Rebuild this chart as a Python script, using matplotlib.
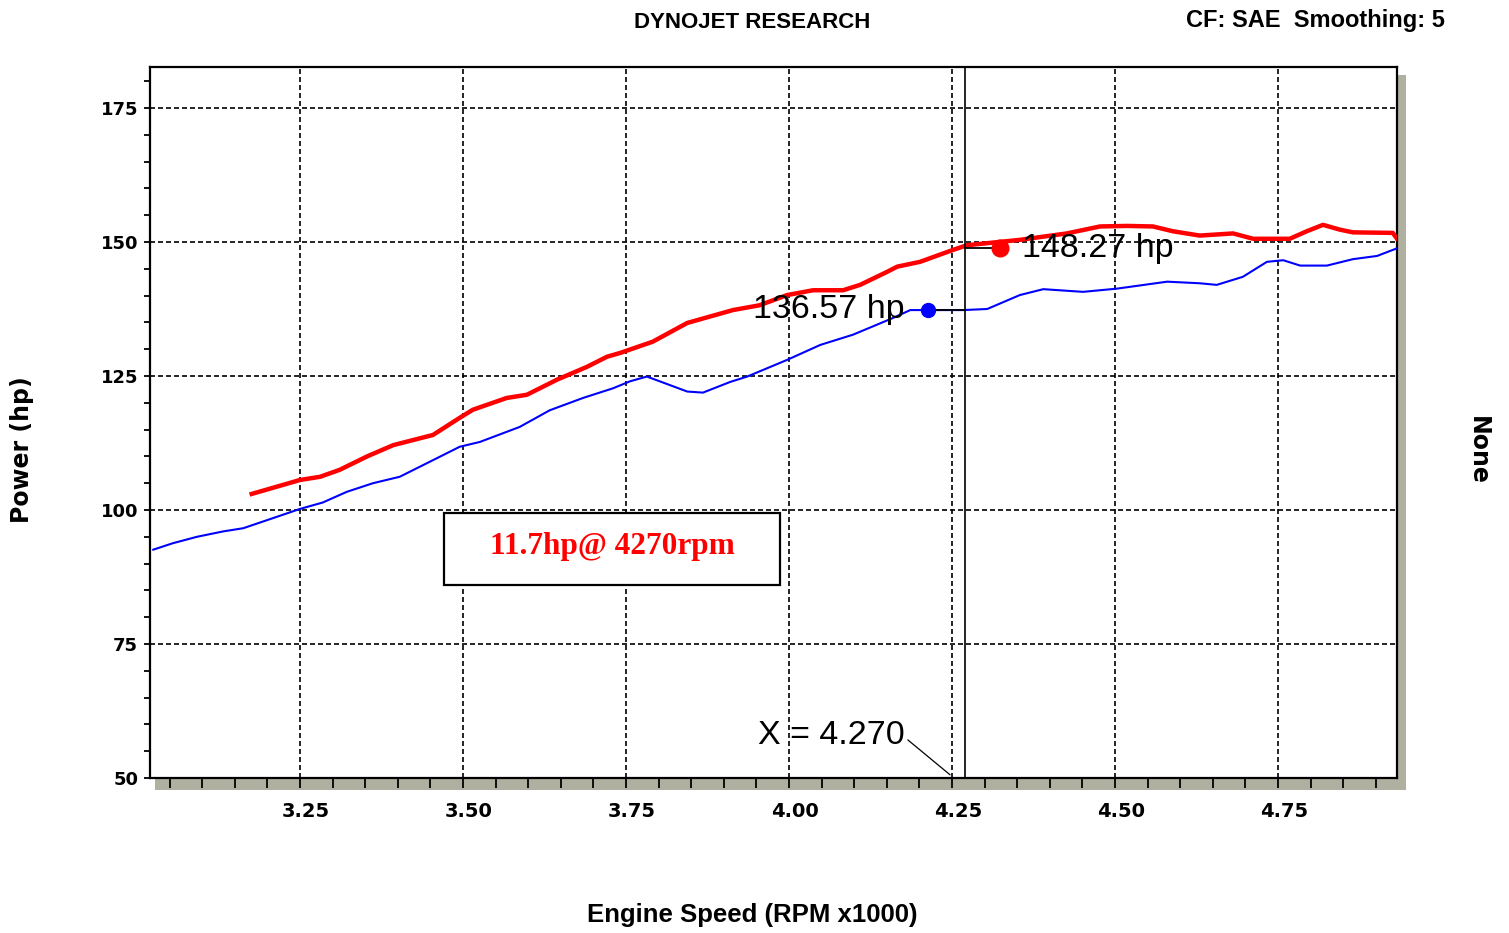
import numpy as np
import matplotlib
matplotlib.use("Agg")
import matplotlib.pyplot as plt
from matplotlib.ticker import MultipleLocator
from matplotlib.patches import Rectangle
from matplotlib.transforms import ScaledTranslation

# curvas (rpm x1000, hp)
red_rpm = [3.176, 3.25, 3.281, 3.311, 3.353, 3.393, 3.454, 3.495, 3.515, 3.567, 3.598,
           3.644, 3.690, 3.721, 3.741, 3.791, 3.844, 3.914, 3.955, 3.997, 4.037, 4.083,
           4.109, 4.150, 4.166, 4.201, 4.251, 4.273, 4.354, 4.426, 4.477, 4.518, 4.558,
           4.589, 4.630, 4.681, 4.712, 4.768, 4.794, 4.819, 4.845, 4.865, 4.926, 4.932]
red_hp = [103.0, 105.6, 106.2, 107.5, 110.0, 112.1, 114.0, 117.2, 118.7, 120.9, 121.5,
          124.3, 126.7, 128.6, 129.3, 131.4, 134.9, 137.3, 138.2, 140.1, 141.0, 141.0,
          142.0, 144.4, 145.4, 146.3, 148.5, 149.4, 150.4, 151.6, 152.9, 153.0, 152.9,
          152.0, 151.2, 151.6, 150.6, 150.6, 152.0, 153.2, 152.3, 151.8, 151.7, 150.7]

blue_rpm = [3.025, 3.055, 3.092, 3.132, 3.163, 3.209, 3.25, 3.285, 3.322, 3.362, 3.403,
            3.454, 3.495, 3.526, 3.587, 3.633, 3.684, 3.730, 3.756, 3.782, 3.844, 3.868,
            3.910, 3.936, 3.997, 4.048, 4.098, 4.159, 4.186, 4.212, 4.267, 4.304, 4.354,
            4.390, 4.451, 4.503, 4.580, 4.630, 4.656, 4.696, 4.733, 4.758, 4.784, 4.825,
            4.865, 4.902, 4.932]
blue_hp = [92.6, 93.8, 95.0, 96.0, 96.6, 98.5, 100.2, 101.4, 103.4, 105.0, 106.2,
           109.3, 111.8, 112.7, 115.5, 118.6, 120.9, 122.7, 124.0, 124.9, 122.1, 121.9,
           123.9, 124.9, 128.0, 130.8, 132.7, 135.8, 137.3, 137.3, 137.3, 137.5, 140.1,
           141.2, 140.7, 141.3, 142.6, 142.3, 142.0, 143.5, 146.3, 146.6, 145.6, 145.6,
           146.8, 147.4, 148.8]

cursor_rpm = 4.270
red_label = "148.27 hp"
blue_label = "136.57 hp"
gain_label = "11.7hp@ 4270rpm"
x_ticks = [3.25, 3.50, 3.75, 4.00, 4.25, 4.50, 4.75]
y_ticks = [50, 75, 100, 125, 150, 175]

fig = plt.figure(figsize=(15.09, 9.33), dpi=100)
fig.patch.set_facecolor("white")
ax = fig.add_axes([150/1509, 155/933, 1247/1509, 711/933])

# sombra cinza da moldura
shadow = "#b0b0a0"
fig.add_artist(Rectangle((1397/1509, 143/933), 9/1509, 715/933, transform=fig.transFigure,
                         facecolor=shadow, edgecolor="none", zorder=-1))
fig.add_artist(Rectangle((155/1509, 143/933), 1251/1509, 13/933, transform=fig.transFigure,
                         facecolor=shadow, edgecolor="none", zorder=-1))

ax.plot(blue_rpm, blue_hp, color="#0000ff", lw=1.5, zorder=3)
ax.plot(red_rpm, red_hp, color="#ff0000", lw=3.2, zorder=4)

ax.set_xlim(3.02, 4.9325)
ax.set_ylim(50, 182.65)

# cursor
ax.axvline(cursor_rpm, color="black", lw=1.2, zorder=5)
red_y = np.interp(cursor_rpm, red_rpm, red_hp) - 0.4
blue_y = np.interp(cursor_rpm, blue_rpm, blue_hp)
ax.plot([cursor_rpm, cursor_rpm + 0.054], [red_y, red_y], color="black", lw=1.3, zorder=5)
ax.plot([cursor_rpm + 0.054], [red_y], "o", color="#ff0000", ms=12, zorder=6)
ax.plot([cursor_rpm - 0.057, cursor_rpm], [blue_y, blue_y], color="black", lw=1.3, zorder=5)
ax.plot([cursor_rpm - 0.057], [blue_y], "o", color="#0000ff", ms=10, zorder=6)

ax.text(cursor_rpm + 0.087, red_y, red_label, fontsize=24.5, family="Liberation Sans",
        ha="left", va="center", zorder=7)
ax.text(cursor_rpm - 0.092, blue_y, blue_label, fontsize=24.5, family="Liberation Sans",
        ha="right", va="center", zorder=7)
ax.annotate("X = %.3f" % cursor_rpm, xy=(cursor_rpm - 0.023, 50.6),
            xytext=(cursor_rpm - 0.092, 58.0), fontsize=24.5, family="Liberation Sans",
            ha="right", va="center",
            arrowprops=dict(arrowstyle="-", color="black", lw=0.9, shrinkA=0, shrinkB=0,
                            relpos=(1.0, 0.42)))

# caixa do ganho
ax.add_patch(Rectangle((0.2358, 0.2714), 0.2694, 0.1013, transform=ax.transAxes,
                       facecolor="white", edgecolor="black", lw=1.6, zorder=8))
ax.text(0.3705, 0.3263, gain_label, transform=ax.transAxes, color="#ff0000",
        fontsize=22.5, family="Liberation Serif", fontweight="bold",
        ha="center", va="center", zorder=9)

# eixos e grade
ax.set_xticks(x_ticks)
ax.set_xticklabels(["%.2f" % v for v in x_ticks])
ax.set_yticks(y_ticks)
ax.set_yticklabels([str(v) for v in y_ticks])
ax.xaxis.set_minor_locator(MultipleLocator(0.05))
ax.yaxis.set_minor_locator(MultipleLocator(5))
ax.tick_params(axis="x", which="both", direction="out", length=7, width=1.3, pad=10,
               labelsize=14, top=False)
ax.tick_params(axis="y", which="both", direction="out", length=4.5, width=1.3, pad=4,
               labelsize=13, right=False)
for lab in ax.get_xticklabels():
    lab.set_fontweight("bold")
    lab.set_transform(lab.get_transform() + ScaledTranslation(6/100, 0, fig.dpi_scale_trans))
for lab in ax.get_yticklabels():
    lab.set_fontweight("bold")
ax.grid(True, which="major", color="black", linestyle=(0, (3, 1.8)), lw=1.2)
for s in ax.spines.values():
    s.set_linewidth(1.6)

# textos da figura
fig.text(752/1509, 1 - 22/933, "DYNOJET RESEARCH", fontsize=16, family="Liberation Sans",
         fontweight="bold", ha="center", va="center")
fig.text(1445/1509, 1 - 20/933, "CF: SAE  Smoothing: 5", fontsize=17,
         family="Liberation Sans", fontweight="bold", ha="right", va="center")
fig.text(752/1509, 1 - 915/933, "Engine Speed (RPM x1000)", fontsize=18.5,
         family="Liberation Sans", fontweight="bold", ha="center", va="center")
fig.text(22/1509, 1 - 450/933, "Power (hp)", fontsize=17, fontweight="bold",
         rotation=90, ha="center", va="center")
fig.text(1478/1509, 1 - 450/933, "None", fontsize=17, fontweight="bold",
         rotation=270, ha="center", va="center")

plt.savefig("out.png", dpi=100)
